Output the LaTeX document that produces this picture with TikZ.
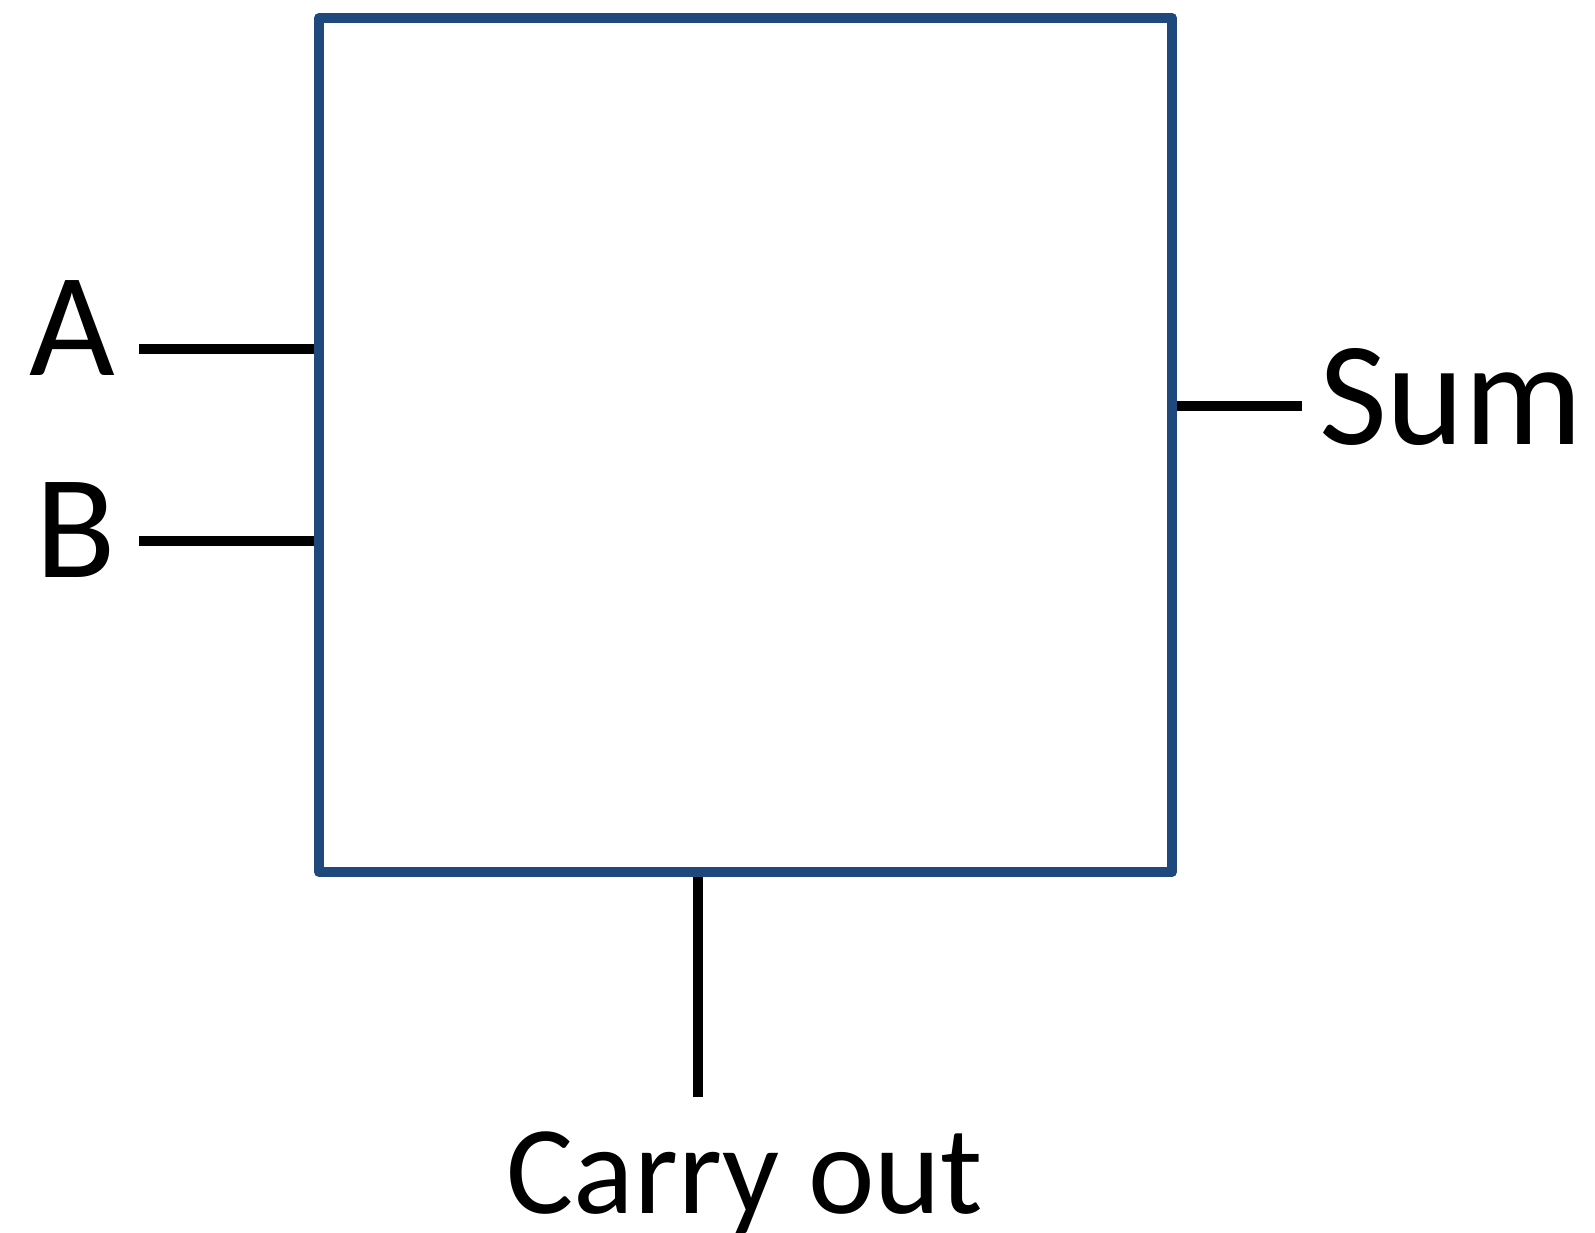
\documentclass[tikz,border=0pt]{standalone}
\usepackage{fontspec}
\setmainfont{Carlito}
\definecolor{boxblue}{HTML}{1F497D}
\begin{document}
\begin{tikzpicture}[x=1pt,y=-1pt,
  blockbox/.style={draw=boxblue,line width=10pt,line join=round,minimum width=853pt,minimum height=854pt,inner sep=0pt,outer sep=5pt},
  wire/.style={draw=black,line width=10pt},
  biglabel/.style={font=\fontsize{148}{160}\selectfont,inner sep=0pt,anchor=base},
  smalllabel/.style={font=\fontsize{126}{140}\selectfont,inner sep=0pt,anchor=base}]
\useasboundingbox (0,0) rectangle (1595,1233);
\node[blockbox] (box) at (745.5,445) {};
\coordinate (aend) at (139,349);
\coordinate (bend) at (139,541);
\coordinate (send) at (1302,406);
\coordinate (cend) at (697.5,1097);
\draw[wire] (aend) -- (aend -| box.west);
\draw[wire] (bend) -- (bend -| box.west);
\draw[wire] (send -| box.east) -- (send);
\draw[wire] (cend |- box.south) -- (cend);
\node[biglabel] (la) at (72.5,375) {A};
\node[biglabel] (lb) at (76,577) {B};
\node[biglabel] (ls) at (1451,444) {Sum};
\node[smalllabel] (lc) at (745,1213) {Carry out};
\end{tikzpicture}
\end{document}
